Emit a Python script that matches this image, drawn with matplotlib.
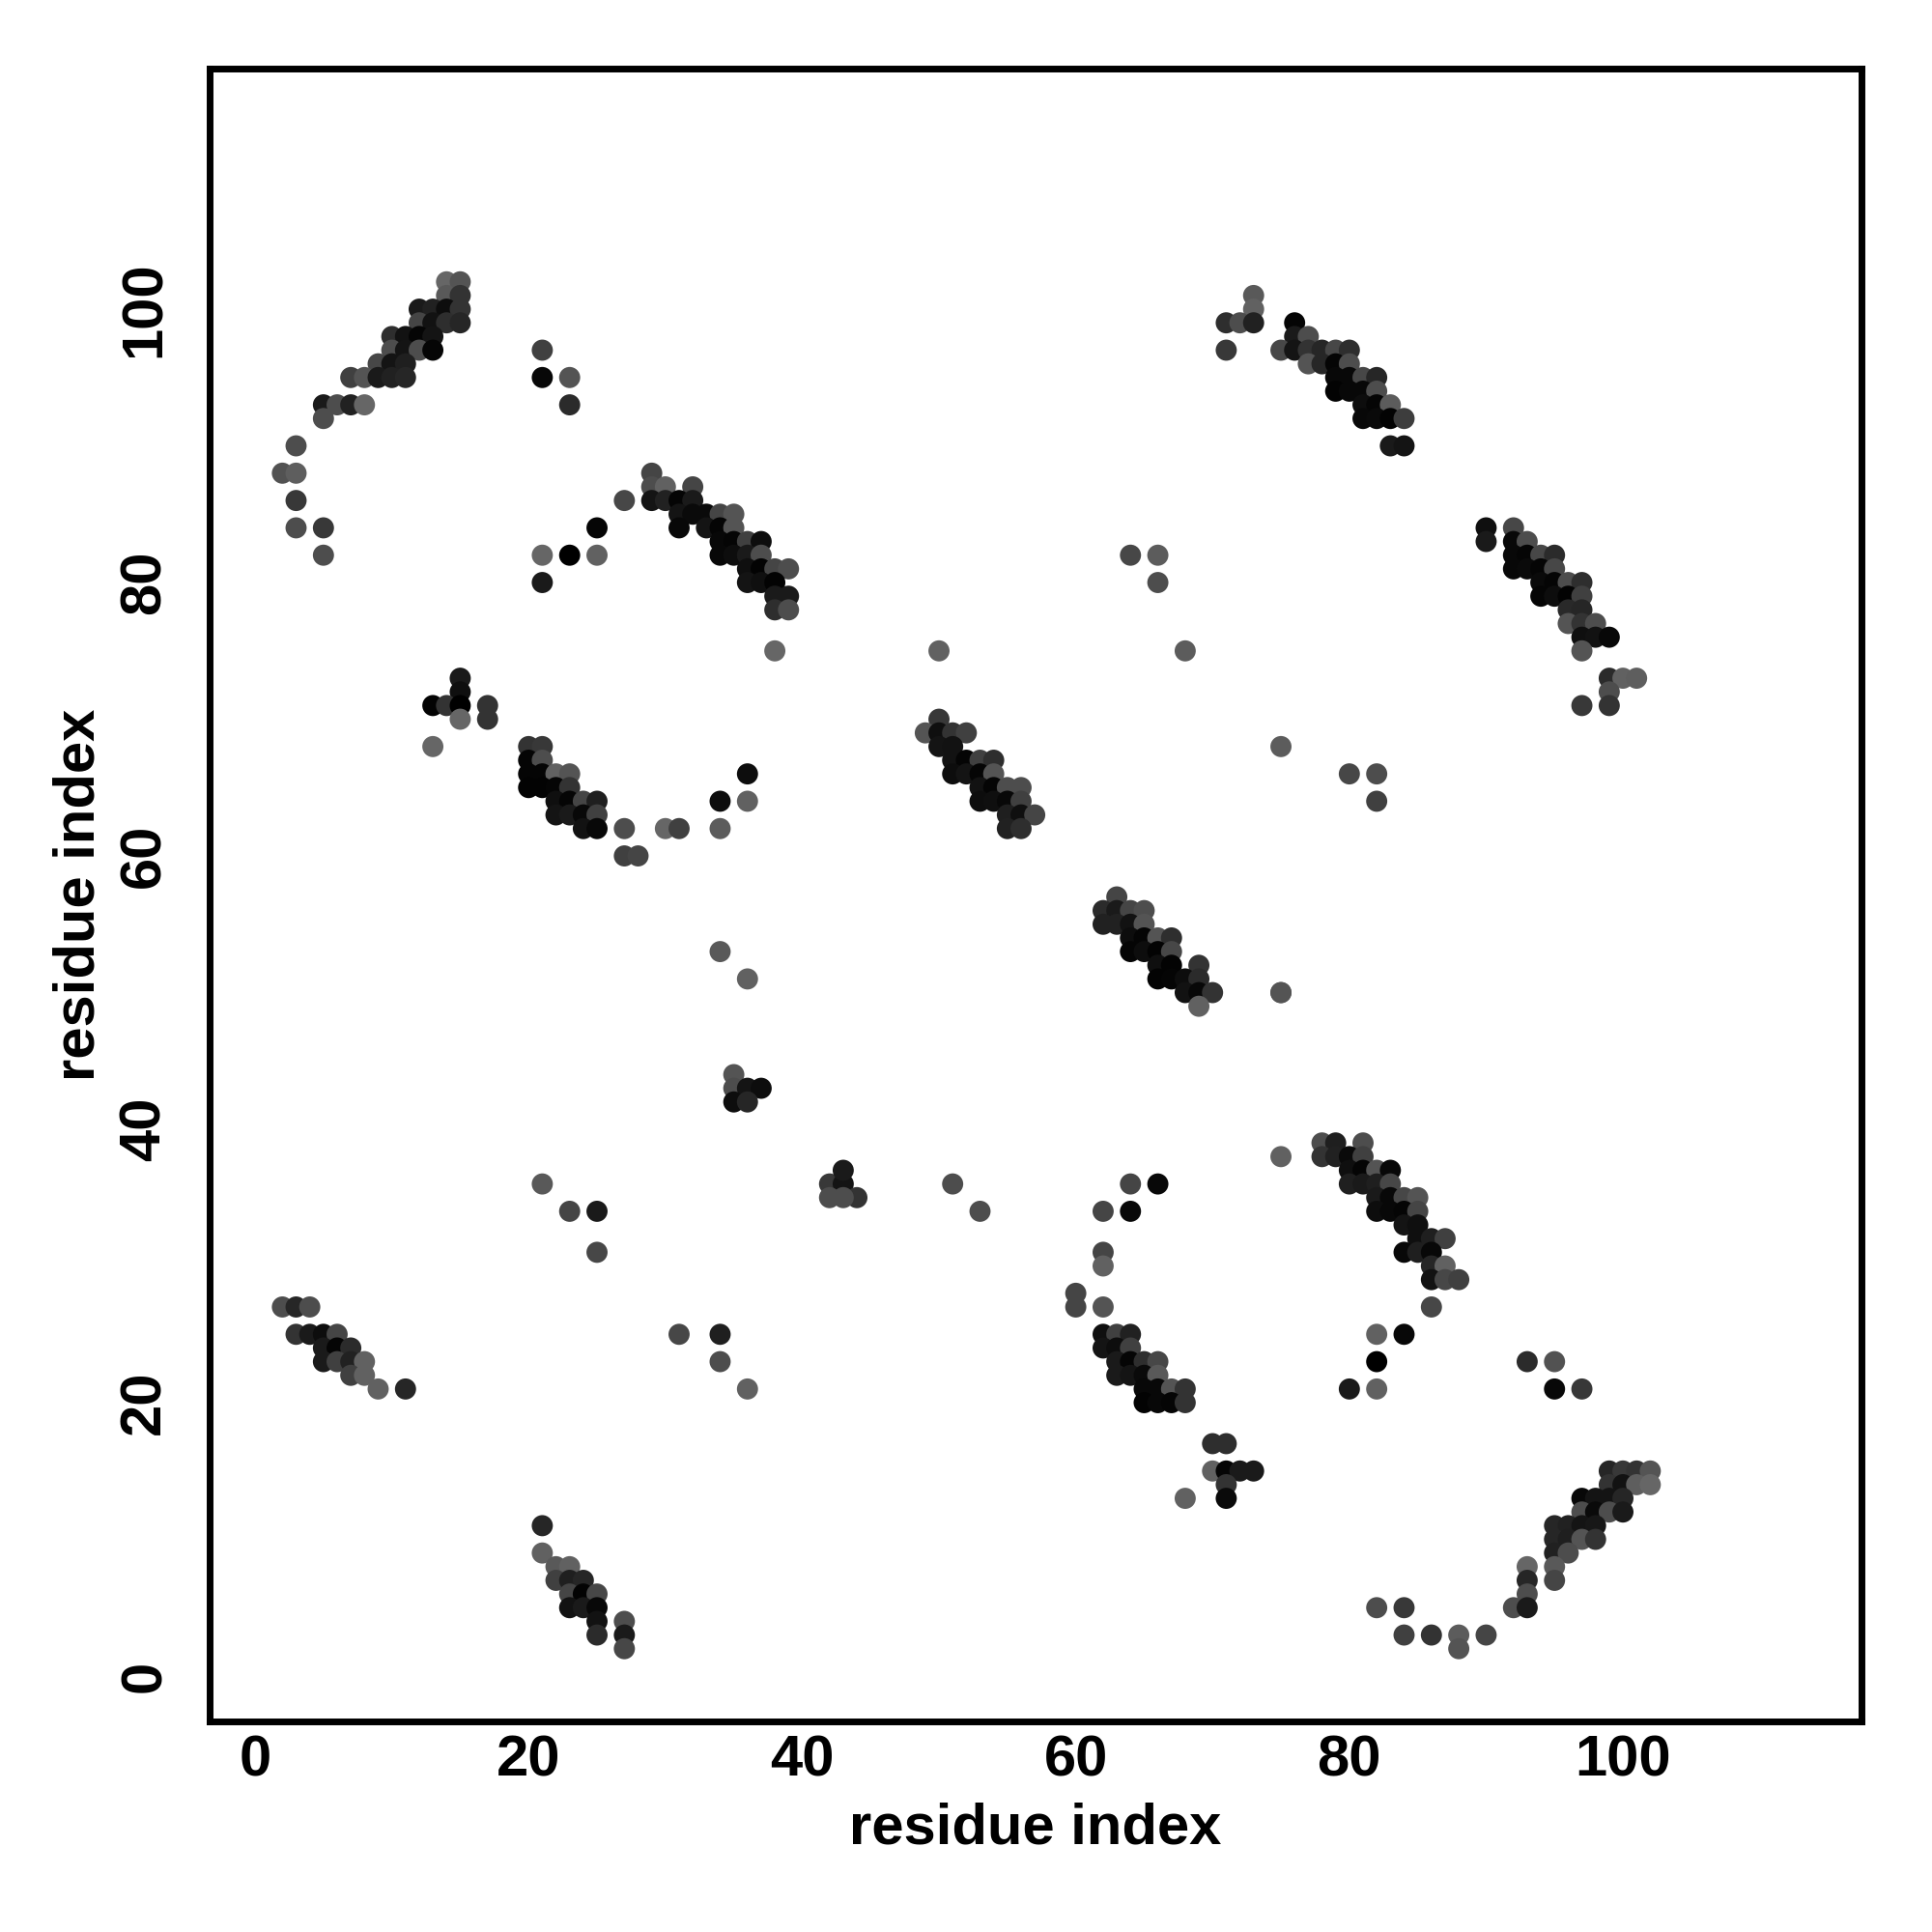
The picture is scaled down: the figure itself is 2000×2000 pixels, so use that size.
import matplotlib
matplotlib.use("Agg")
import matplotlib.pyplot as plt
from matplotlib.transforms import ScaledTranslation

residue_x = [
 14,15, 14,15, 12,13,14,15, 12,13,14,15, 10,11,12,13, 10,11,12,13, 9,10,11, 7,8,9,10,11,
 5,6,7,8, 5, 3, 2,3, 3, 3,5, 5,
 21, 21,23, 23, 27, 25, 21,23,25, 21,
 29, 29,30,32, 29,30,31,32, 31,32,33,34,35, 31,33,34,35, 34,35,36,37, 34,35,36,37,
 36,37,38,39, 36,37,38, 38,39, 38,39, 38,
 15, 15, 13,14,15,17, 15,17, 13,20,21, 20,21, 20,21,22,23,36, 20,21,22,23,
 22,23,24,25,34,36, 22,23,24,25, 24,25,27,30,31,34, 27,28,
 50, 49,50,51,52, 50,51, 51,52,53,54, 51,52,53,54, 53,54,55,56, 53,54,55,56, 55,56,57, 55,56,
 63, 62,63,64,65, 62,63,64,65, 64,65,66,67, 64,65,66,67, 66,67,69, 66,67,68,69, 68,69,70,75, 69,
 73, 73, 71,72,73,76, 76,77, 71,75,76,77,78,79,80, 77,78,79,80, 79,80,81,82, 79,80,81,82,
 81,82,83, 81,82,83,84, 83,84,
 90,92, 90,92,93, 92,93,94,95, 92,93,94,95, 94,95,96,97, 94,95,96,97, 96,97, 96,97,98,
 97,98,99, 97, 99,100,101, 99, 97,99,
 78,79,81, 75,78,79,80,81, 80,81,82,83, 80,81,82,83, 82,83,84,85, 82,83,84,85, 84,85,
 85,86,87, 84,85,86, 86,87, 86,87,88, 86, 82,84, 82, 80,82,
 60, 60,62, 62,63,64, 62,63,64, 63,64,65,66, 63,64,65,66, 65,66,67,68, 65,66,67,68,
 70,71, 70,71,72,73, 71, 68,71,
 64,66, 62,64, 62, 62, 51, 53,
 99,100,101,102, 99,100,101,102, 97,98,99,100, 97,98,99,100, 95,96,97,98, 95,96,97,98,
 95,96, 93,95, 93,95, 93, 82,84,92,93, 84,86,88,90, 88,
 2,3,4, 3,4,5,6, 5,6,7, 5,6,7,8, 7,8, 9,11,
 21, 21, 22,23, 22,23,24, 23,24,25, 23,24,25, 25,27, 25,27, 27,
 21,23,25, 25, 42,43,44, 42,43, 43, 35, 35,36,37, 35,36, 34, 36, 75, 75, 80,82, 82,
 64,66, 66, 68, 50, 31,34, 34, 36, 93,95, 95,97,
]
residue_y = [
 102,102, 101,101, 100,100,100,100, 99,99,99,99, 98,98,98,98, 97,97,97,97, 96,96,96, 95,95,95,95,95,
 93,93,93,93, 92, 90, 88,88, 86, 84,84, 82,
 97, 95,95, 93, 86, 84, 82,82,82, 80,
 88, 87,87,87, 86,86,86,86, 85,85,85,85,85, 84,84,84,84, 83,83,83,83, 82,82,82,82,
 81,81,81,81, 80,80,80, 79,79, 78,78, 75,
 73, 72, 71,71,71,71, 70,70, 68,68,68, 67,67, 66,66,66,66,66, 65,65,65,65,
 64,64,64,64,64,64, 63,63,63,63, 62,62,62,62,62,62, 60,60,
 70, 69,69,69,69, 68,68, 67,67,67,67, 66,66,66,66, 65,65,65,65, 64,64,64,64, 63,63,63, 62,62,
 57, 56,56,56,56, 55,55,55,55, 54,54,54,54, 53,53,53,53, 52,52,52, 51,51,51,51, 50,50,50,50, 49,
 101, 100, 99,99,99,99, 98,98, 97,97,97,97,97,97,97, 96,96,96,96, 95,95,95,95, 94,94,94,94,
 93,93,93, 92,92,92,92, 90,90,
 84,84, 83,83,83, 82,82,82,82, 81,81,81,81, 80,80,80,80, 79,79,79,79, 78,78, 77,77,77,
 76,76,76, 75, 73,73,73, 72, 71,71,
 39,39,39, 38,38,38,38,38, 37,37,37,37, 36,36,36,36, 35,35,35,35, 34,34,34,34, 33,33,
 32,32,32, 31,31,31, 30,30, 29,29,29, 27, 25,25, 23, 21,21,
 28, 27,27, 25,25,25, 24,24,24, 23,23,23,23, 22,22,22,22, 21,21,21,21, 20,20,20,20,
 17,17, 15,15,15,15, 14, 13,13,
 36,36, 34,34, 31, 30, 36, 34,
 15,15,15,15, 14,14,14,14, 13,13,13,13, 12,12,12,12, 11,11,11,11, 10,10,10,10,
 9,9, 8,8, 7,7, 6, 5,5,5,5, 3,3,3,3, 2,
 27,27,27, 25,25,25,25, 24,24,24, 23,23,23,23, 22,22, 21,21,
 11, 9, 8,8, 7,7,7, 6,6,6, 5,5,5, 4,4, 3,3, 2,
 36,34,34, 31, 36,36,35, 35,35, 37, 44, 43,43,43, 42,42, 53, 51, 50, 68, 66,66, 64,
 82,82, 80, 75, 75, 25,25, 23, 21, 23,23, 21,21,
]
gray_level = [
 .40,.33, .35,.20, .10,.13,.05,.20, .27,.07,.18,.15, .18,.07,.02,.08, .30,.08,.30,.02, .28,.08,.12, .25,.33,.10,.13,.15,
 .10,.30,.13,.40, .30, .30, .32,.37, .22, .30,.22, .30,
 .25, .03,.33, .17, .28, .02, .40,.00,.38, .10,
 .27, .30,.38,.27, .08,.13,.02,.10, .08,.04,.04,.27,.33, .03,.08,.02,.33, .03,.02,.25,.05, .03,.05,.10,.30,
 .06,.01,.27,.30, .08,.06,.01, .10,.10, .18,.30, .40,
 .10, .06, .01,.20,.00,.20, .40,.20, .40,.20,.22, .02,.30, .02,.02,.38,.33,.05, .01,.01,.02,.20,
 .06,.02,.27,.12,.05,.38, .08,.10,.03,.25, .07,.03,.30,.40,.25,.36, .25,.27,
 .22, .33,.06,.20,.25, .08,.07, .07,.02,.25,.18, .05,.08,.02,.33, .07,.02,.30,.30, .05,.06,.03,.25, .12,.06,.27, .13,.18,
 .27, .17,.10,.27,.30, .13,.13,.07,.33, .05,.02,.33,.18, .02,.05,.01,.28, .06,.01,.20, .01,.02,.05,.17, .07,.03,.20,.35, .38,
 .35, .38, .18,.30,.13,.02, .10,.30, .22,.28,.08,.20,.15,.28,.18, .33,.15,.02,.30, .03,.03,.28,.15, .01,.03,.03,.30,
 .05,.02,.36, .03,.04,.01,.24, .10,.08,
 .06,.28, .10,.03,.30, .03,.02,.28,.17, .03,.04,.02,.28, .04,.02,.30,.18, .02,.05,.01,.25, .16,.15, .33,.20,.30,
 .06,.07,.03, .33, .17,.38,.37, .30, .22,.20,
 .30,.12,.30, .38,.20,.13,.04,.25, .06,.02,.33,.03, .12,.10,.12,.28, .10,.03,.28,.33, .05,.03,.02,.27, .08,.06,
 .06,.12,.25, .03,.12,.03, .15,.38, .07,.28,.25, .28, .38,.03, .00, .10,.38,
 .27, .27,.33, .06,.25,.13, .08,.05,.25, .10,.02,.18,.28, .10,.08,.04,.35, .03,.03,.33,.20, .01,.03,.02,.20,
 .18,.18, .38,.02,.10,.10, .20, .38,.04,
 .27,.03, .27,.03, .27, .38, .30, .30,
 .15,.22,.20,.33, .20,.07,.37,.40, .03,.08,.08,.15, .30,.04,.30,.10, .15,.13,.08,.09, .15,.12,.33,.20,
 .13,.30, .40,.35, .15,.27, .30, .30,.22,.30,.10, .25,.20,.36,.27, .33,
 .30,.15,.30, .20,.10,.05,.27, .10,.02,.17, .10,.25,.13,.38, .25,.38, .38,.15,
 .15, .38, .35,.38, .25,.12,.15, .27,.01,.28, .07,.10,.03, .07,.30, .17,.10, .28,
 .35,.27,.10, .28, .22,.08,.20, .30,.30, .10, .33, .30,.08,.05, .05,.15, .35, .38, .33, .36, .28,.30, .25,
 .28,.36, .30, .36, .38, .28,.12, .30, .38, .17,.32, .03,.22,
]

tick_values = [0, 20, 40, 60, 80, 100]
axis_label = "residue index"

plt.rcParams["font.family"] = ["Liberation Sans", "DejaVu Sans"]
fig = plt.figure(figsize=(10, 10), dpi=200)
ax = fig.add_axes([217 / 2000, 1 - 1782 / 2000, (1927 - 217) / 2000, (1782 - 71) / 2000])
ax.scatter(residue_x, residue_y, s=62, c=[str(g) for g in gray_level], linewidths=0, zorder=3)
ax.set_xlim(-3.32, 117.44)
ax.set_ylim(-3.32, 117.6)
ax.set_xticks(tick_values)
ax.set_yticks(tick_values)
ax.tick_params(length=0, labelsize=21.5, pad=0)
for t in ax.get_xticklabels():
    t.set_fontweight("bold")
for t in ax.get_yticklabels():
    t.set_fontweight("bold")
    t.set_rotation(90)
    t.set_va("center")
    t.set_ha("center")
    t.set_transform(t.get_transform() + ScaledTranslation(0, 4 / 200, fig.dpi_scale_trans))
ax.tick_params(axis="x", pad=5)
ax.tick_params(axis="y", pad=24)
for s in ax.spines.values():
    s.set_linewidth(2.5)
ax.set_xlabel(axis_label, fontsize=21.5, fontweight="bold")
ax.set_ylabel(axis_label, fontsize=21.5, fontweight="bold")
ax.xaxis.set_label_coords(0.5, (1782 - 1893) / 1711, transform=ax.transAxes)
ax.yaxis.set_label_coords((82 - 217) / 1710, 0.5, transform=ax.transAxes)
ax.xaxis.label.set_va("center")
ax.yaxis.label.set_va("center")
assert len(residue_x) == len(residue_y) == len(gray_level), (len(residue_x), len(residue_y), len(gray_level))
fig.savefig("out.png", dpi=200, facecolor="white")
